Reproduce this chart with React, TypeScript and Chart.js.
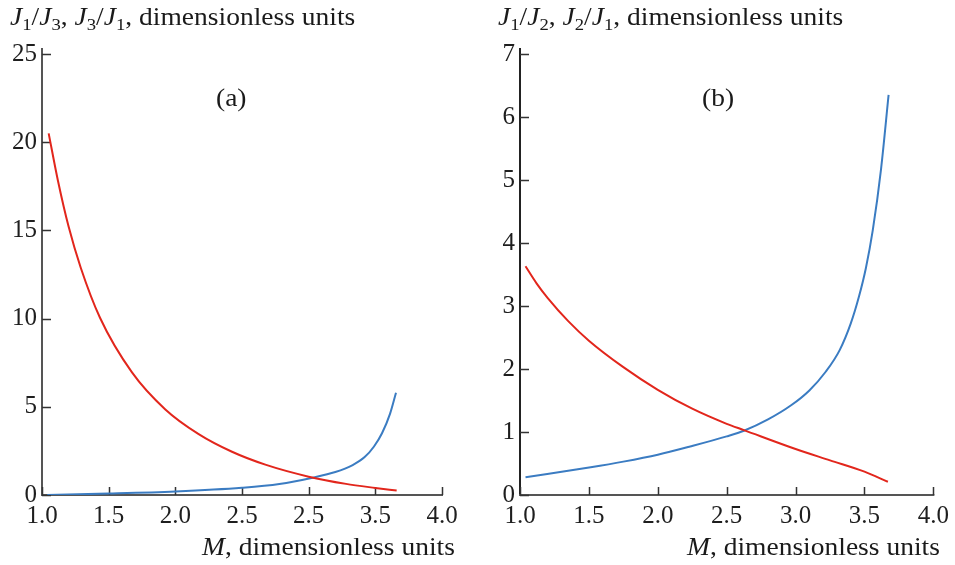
import React, { useEffect, useRef } from "react";
import { Chart, registerables } from "chart.js";
Chart.register(...registerables);

// ---- Panel (a) data ----
const aRedM = [1.05, 1.12, 1.2, 1.29, 1.435, 1.675, 1.925, 2.175, 2.425, 2.675, 3.0, 3.28, 3.5, 3.66];
const aRedV = [20.5, 17.8, 15.2, 12.9, 10.05, 6.95, 4.85, 3.45, 2.45, 1.72, 1.04, 0.63, 0.4, 0.25];
const aBlueM = [1.04, 1.5, 2.0, 2.5, 2.78, 3.03, 3.2, 3.33, 3.42, 3.49, 3.55, 3.61, 3.655];
const aBlueV = [0.0, 0.08, 0.2, 0.41, 0.62, 0.98, 1.3, 1.7, 2.15, 2.75, 3.5, 4.6, 5.8];
const aXTickLabels = ["1.0", "1.5", "2.0", "2.5", "2.5", "3.5", "4.0"];

// ---- Panel (b) data ----
const bRedM = [1.04, 1.12, 1.2, 1.35, 1.5, 1.75, 2.0, 2.25, 2.5, 2.625, 3.0, 3.25, 3.5, 3.67];
const bRedV = [3.63, 3.36, 3.13, 2.76, 2.45, 2.03, 1.67, 1.37, 1.13, 1.03, 0.73, 0.55, 0.37, 0.21];
const bBlueM = [1.04, 1.513, 1.75, 2.0, 2.235, 2.5, 2.625, 2.8, 2.965, 3.1, 3.22, 3.32, 3.4, 3.46, 3.51, 3.56, 3.62, 3.675];
const bBlueV = [0.28, 0.44, 0.53, 0.64, 0.77, 0.93, 1.02, 1.2, 1.42, 1.66, 1.96, 2.3, 2.72, 3.15, 3.6, 4.2, 5.17, 6.35];
const bXTickLabels = ["1.0", "1.5", "2.0", "2.5", "3.0", "3.5", "4.0"];

const RED = "#e2261c";
const BLUE = "#3b7cc2";
const FONT = "'Liberation Serif', 'Times New Roman', serif";

const axesPlugin = {
  id: "inAxes",
  beforeDatasetsDraw(chart: any, _args: any, opts: any) {
    const { ctx, chartArea } = chart;
    const { left, right, top, bottom } = chartArea;
    const x = chart.scales.x;
    const y = chart.scales.y;
    ctx.save();
    ctx.lineWidth = 2;
    ctx.strokeStyle = opts.yColor;
    ctx.beginPath();
    ctx.moveTo(left, top - 6);
    ctx.lineTo(left, bottom + 1);
    ctx.stroke();
    ctx.strokeStyle = opts.xColor;
    ctx.beginPath();
    ctx.moveTo(left - 1, bottom);
    ctx.lineTo(right + 1, bottom);
    ctx.stroke();
    ctx.lineWidth = 1.5;
    ctx.strokeStyle = "#333";
    ctx.beginPath();
    x.ticks.forEach((t: any) => {
      const px = Math.round(x.getPixelForValue(t.value)) + 0.5;
      ctx.moveTo(px, bottom);
      ctx.lineTo(px, bottom - 8);
    });
    y.ticks.forEach((t: any) => {
      const py = Math.round(y.getPixelForValue(t.value)) + 0.5;
      ctx.moveTo(left, py);
      ctx.lineTo(left + 9, py);
    });
    ctx.stroke();
    ctx.restore();
  },
};

function pts(m: number[], v: number[]) {
  return m.map((mm, i) => ({ x: mm, y: v[i] }));
}

function makeConfig(p: {
  red: any[];
  blue: any[];
  yMax: number;
  yStep: number;
  xLabels: string[];
  padRight: number;
  yColor: string;
  xColor: string;
}) {
  return {
    type: "line",
    data: {
      datasets: [
        { data: p.red, borderColor: RED, borderWidth: 2, pointRadius: 0, cubicInterpolationMode: "monotone", fill: false },
        { data: p.blue, borderColor: BLUE, borderWidth: 2, pointRadius: 0, cubicInterpolationMode: "monotone", fill: false },
      ],
    },
    options: {
      animation: false,
      responsive: false,
      events: [],
      layout: { padding: { top: 54, left: 0, right: p.padRight, bottom: 0 } },
      plugins: {
        legend: { display: false },
        tooltip: { enabled: false },
        inAxes: { yColor: p.yColor, xColor: p.xColor },
      },
      scales: {
        x: {
          type: "linear",
          min: 1,
          max: 4,
          grid: { display: false, drawTicks: false },
          border: { display: false },
          afterFit: (s: any) => {
            s.height = 70;
          },
          ticks: {
            stepSize: 0.5,
            padding: 6,
            color: "#1e1e1e",
            font: { family: FONT, size: 25 },
            maxRotation: 0,
            autoSkip: false,
            callback: (_v: any, i: number) => p.xLabels[i],
          },
        },
        y: {
          type: "linear",
          min: 0,
          max: p.yMax,
          grid: { display: false, drawTicks: false },
          border: { display: false },
          afterFit: (s: any) => {
            s.width = 42;
          },
          ticks: {
            stepSize: p.yStep,
            padding: 5,
            color: "#1e1e1e",
            font: { family: FONT, size: 25 },
          },
        },
      },
    },
    plugins: [axesPlugin],
  } as any;
}

function Panel(props: { cfg: any; left: number; width: number }) {
  const ref = useRef<HTMLCanvasElement | null>(null);
  useEffect(() => {
    if (!ref.current) return;
    const chart = new Chart(ref.current, props.cfg);
    return () => chart.destroy();
  }, []);
  return (
    <canvas
      ref={ref}
      width={props.width}
      height={565}
      style={{ position: "absolute", left: props.left, top: 0, width: props.width, height: 565, display: "block" }}
    />
  );
}

const J = (n: number) => (
  <>
    <i>J</i>
    <span style={{ fontSize: "0.68em", position: "relative", top: "0.28em" }}>{n}</span>
  </>
);

const textStyle: React.CSSProperties = {
  position: "absolute",
  fontFamily: FONT,
  fontSize: 25,
  lineHeight: "25px",
  color: "#1a1a1a",
  whiteSpace: "nowrap",
  transform: "scaleX(1.1)",
  transformOrigin: "left top",
};

export default function App() {
  const cfgA = makeConfig({
    red: pts(aRedM, aRedV),
    blue: pts(aBlueM, aBlueV),
    yMax: 25,
    yStep: 5,
    xLabels: aXTickLabels,
    padRight: 28,
    yColor: "#555",
    xColor: "#555",
  });
  const cfgB = makeConfig({
    red: pts(bRedM, bRedV),
    blue: pts(bBlueM, bBlueV),
    yMax: 7,
    yStep: 1,
    xLabels: bXTickLabels,
    padRight: 21,
    yColor: "#222",
    xColor: "#555",
  });
  const rightAligned: React.CSSProperties = { ...textStyle, transformOrigin: "right top" };
  return (
    <div style={{ position: "absolute", left: 0, top: 0, width: 955, height: 565, background: "#fff", overflow: "hidden" }}>
      <Panel cfg={cfgA} left={0} width={470} />
      <Panel cfg={cfgB} left={478} width={477} />
      <div style={{ ...textStyle, left: 10, top: 4 }}>
        {J(1)}/{J(3)}, {J(3)}/{J(1)}, dimensionless units
      </div>
      <div style={{ ...textStyle, left: 498, top: 4 }}>
        {J(1)}/{J(2)}, {J(2)}/{J(1)}, dimensionless units
      </div>
      <div style={{ ...textStyle, left: 216, top: 85 }}>(a)</div>
      <div style={{ ...textStyle, left: 702, top: 85 }}>(b)</div>
      <div style={{ ...rightAligned, right: 955 - 455, top: 534 }}>
        <i>M</i>, dimensionless units
      </div>
      <div style={{ ...rightAligned, right: 955 - 940, top: 534 }}>
        <i>M</i>, dimensionless units
      </div>
    </div>
  );
}
